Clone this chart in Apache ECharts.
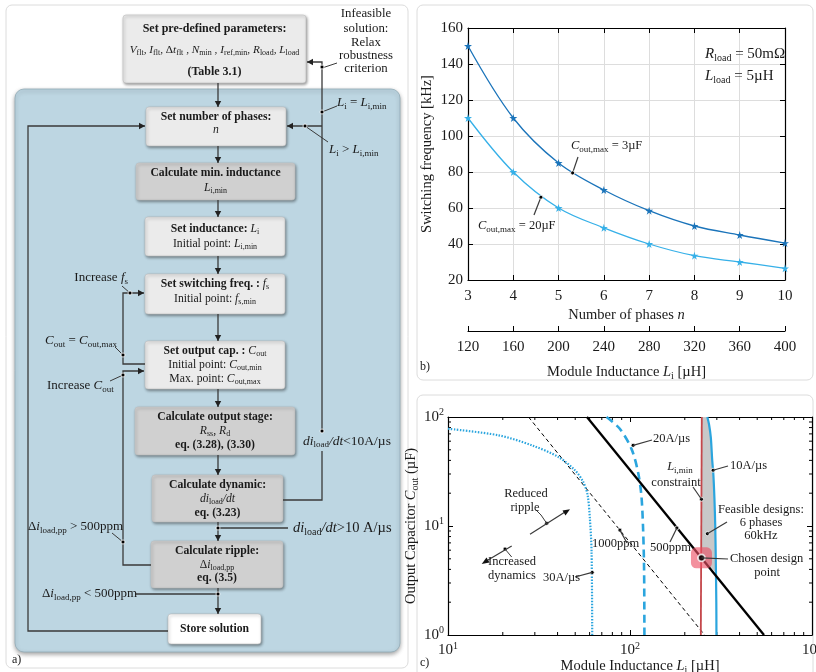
<!DOCTYPE html>
<html><head><meta charset="utf-8">
<script src="https://cdn.jsdelivr.net/npm/echarts@6/dist/echarts.min.js"></script>
<style>html,body{margin:0;padding:0;background:#fff}#c{width:816px;height:672px}</style>
</head><body><div id="c"></div>
<script>
// ---------- data: panel b ----------
const phases = [3, 4, 5, 6, 7, 8, 9, 10];
const fsw3uF = [150, 110, 85, 70, 58.5, 50, 45, 40.5];
const fsw20uF = [110, 80, 60, 49, 40, 33.5, 30, 26.5];
const inductanceRange = [120, 400, 40];   // min, max, step of the second x-axis
const freqRange = [20, 160, 20];
// ---------- data: panel c  [L_i (uH), C_out (uF)] ----------
const ripple500 = [[58, 100], [545, 1]];
const ripple1000 = [[27.7, 100], [257, 1]];
const liMinLine = [[248, 100], [245, 1]];
const dyn10 = [[266, 100], [272, 85], [278, 65], [283, 40], [287, 30], [291, 18], [294, 10], [296, 5], [298, 2], [298.5, 1]];
const dyn20 = [[74.3, 100], [87.9, 78], [101.9, 51], [110.8, 31], [115.5, 19], [118, 9.5], [119.5, 4], [120, 1]];
const dyn30 = [[10, 78], [18.9, 68], [28.9, 55], [40.4, 43], [49.8, 32.5], [55.3, 25.4], [58.5, 19.2], [60.2, 11.7], [61.5, 5.8], [62, 1]];
const feasible = [[248, 100], [266, 100], [272, 85], [278, 65], [283, 40], [287, 30], [291, 18], [294, 10], [296, 5], [296.5, 3.75], [247, 5.1]];
const chosenPoint = [247, 5.1];
const xMinor = [20, 30, 40, 50, 60, 70, 80, 90, 200, 300, 400, 500, 600, 700, 800, 900];
const yMinor = [2, 3, 4, 5, 6, 7, 8, 9, 20, 30, 40, 50, 60, 70, 80, 90];

const F = '"Liberation Serif","DejaVu Serif",serif';
const INK = '#1a1a1a';
function RZ(size) { // zrender rich (graphic)
  const sub = Math.round(size * 0.68);
  return {
    b: {fontFamily: F, fontSize: size, fontWeight: 'bold', fill: INK},
    n: {fontFamily: F, fontSize: size, fill: INK},
    i: {fontFamily: F, fontSize: size, fontStyle: 'italic', fill: INK},
    s: {fontFamily: F, fontSize: sub, fill: INK, padding: [Math.round(size * 0.55), 0, 0, 0]}
  };
}
function RE(size) { // echarts rich
  const sub = Math.round(size * 0.68);
  return {
    n: {fontFamily: F, fontSize: size, color: INK},
    i: {fontFamily: F, fontSize: size, fontStyle: 'italic', color: INK},
    s: {fontFamily: F, fontSize: sub, color: INK, padding: [Math.round(size * 0.55), 0, 0, 0]},
    b: {fontFamily: F, fontSize: size, color: INK},
    e: {fontFamily: F, fontSize: 10, color: INK, padding: [0, 0, 9, 0]}
  };
}

const chart = echarts.init(document.getElementById('c'));
const blueDark = '#1b74ba', blueLight = '#36b0e8', cBlue = '#2ba5de';
const star = 'path://M50,0 L61,35 98,35 68,57 79,91 50,70 21,91 32,57 2,35 39,35Z';

const boxAxis = (extra) => Object.assign({
  axisLine: {onZero: false, lineStyle: {color: '#000', width: 1.2}},
  axisTick: {inside: true, length: 5, lineStyle: {color: '#000'}},
  splitLine: {show: false}
}, extra);

const option = {
  animation: false,
  backgroundColor: '#fff',
  grid: [
    {left: 468, top: 28, width: 317, height: 252, outerBoundsMode: 'none', containLabel: false},
    {left: 448, top: 417, width: 364, height: 218, outerBoundsMode: 'none', containLabel: false}
  ],
  xAxis: [
    boxAxis({gridIndex: 0, type: 'value', min: phases[0], max: phases[phases.length - 1], interval: 1, position: 'bottom',
      axisLabel: {fontFamily: F, fontSize: 15, color: INK, margin: 9},
      splitLine: {show: true, lineStyle: {color: '#dddddd'}},
      name: '{n|Number of phases }{i|n}', nameLocation: 'middle', nameGap: 28, nameTextStyle: {rich: RE(14.5)}}),
    boxAxis({gridIndex: 0, type: 'value', min: 3, max: 10, interval: 1, position: 'top', axisLabel: {show: false}}),
    boxAxis({gridIndex: 0, type: 'value', min: inductanceRange[0], max: inductanceRange[1], interval: inductanceRange[2], position: 'bottom', offset: 51,
      axisLabel: {fontFamily: F, fontSize: 15, color: INK, margin: 9},
      name: '{n|Module Inductance }{i|L}{s|i}{n| [µH]}', nameLocation: 'middle', nameGap: 32, nameTextStyle: {rich: RE(14.5)}}),
    boxAxis({gridIndex: 1, type: 'log', logBase: 10, min: 10, max: 1000, position: 'bottom',
      axisLabel: {margin: 6, formatter: v => '{b|10}{e|' + Math.round(Math.log10(v)) + '}', rich: RE(15)},
      name: '{n|Module Inductance }{i|L}{s|i}{n| [µH]}', nameLocation: 'middle', nameGap: 17, nameTextStyle: {rich: RE(14.5), padding: [0, 0, 0, 20]}}),
    boxAxis({gridIndex: 1, type: 'log', logBase: 10, min: 10, max: 1000, position: 'top', axisLabel: {show: false}})
  ],
  yAxis: [
    boxAxis({gridIndex: 0, type: 'value', min: freqRange[0], max: freqRange[1], interval: freqRange[2], position: 'left',
      axisLabel: {fontFamily: F, fontSize: 15, color: INK, margin: 5},
      splitLine: {show: true, lineStyle: {color: '#dddddd'}},
      name: '{n|Switching frequency [kHz]}', nameLocation: 'middle', nameGap: 33, nameRotate: 90, nameTextStyle: {rich: RE(14.5)}}),
    boxAxis({gridIndex: 0, type: 'value', min: 20, max: 160, interval: 20, position: 'right', axisLabel: {show: false}}),
    boxAxis({gridIndex: 1, type: 'log', logBase: 10, min: 1, max: 100, position: 'left',
      axisLabel: {margin: 4, formatter: v => '{b|10}{e|' + Math.round(Math.log10(v)) + '}', rich: RE(15)},
      name: '{n|Output Capacitor }{i|C}{s|out}{n| (µF)}', nameLocation: 'middle', nameGap: 25, nameRotate: 90, nameTextStyle: {rich: RE(14.5)}}),
    boxAxis({gridIndex: 1, type: 'log', logBase: 10, min: 1, max: 100, position: 'right', axisLabel: {show: false}})
  ],
  series: [
    {type: 'line', xAxisIndex: 0, yAxisIndex: 0, smooth: 0.35, symbol: star, symbolSize: 8,
      data: phases.map((n, k) => [n, fsw3uF[k]]), lineStyle: {color: blueDark, width: 1.3}, itemStyle: {color: blueDark}, z: 5},
    {type: 'line', xAxisIndex: 0, yAxisIndex: 0, smooth: 0.35, symbol: star, symbolSize: 8,
      data: phases.map((n, k) => [n, fsw20uF[k]]), lineStyle: {color: blueLight, width: 1.3}, itemStyle: {color: blueLight}, z: 5},
    // panel c
    {type: 'custom', xAxisIndex: 3, yAxisIndex: 2, data: [feasible[0]], z: 1, silent: true,
      renderItem: (p, api) => ({type: 'polygon', shape: {points: feasible.map(q => api.coord(q))}, style: {fill: '#c8c8c8'}})},
    {type: 'custom', xAxisIndex: 3, yAxisIndex: 2, data: xMinor.map(v => [v, 1]), z: 2, silent: true,
      renderItem: (p, api) => {
        const a = api.coord([api.value(0), 1]), b = api.coord([api.value(0), 100]);
        return {type: 'group', children: [
          {type: 'line', shape: {x1: a[0], y1: a[1], x2: a[0], y2: a[1] - 3}, style: {stroke: '#000', lineWidth: 1}},
          {type: 'line', shape: {x1: b[0], y1: b[1], x2: b[0], y2: b[1] + 3}, style: {stroke: '#000', lineWidth: 1}}]};
      }},
    {type: 'custom', xAxisIndex: 3, yAxisIndex: 2, data: yMinor.map(v => [10, v]), z: 2, silent: true,
      renderItem: (p, api) => {
        const a = api.coord([10, api.value(1)]), b = api.coord([1000, api.value(1)]);
        return {type: 'group', children: [
          {type: 'line', shape: {x1: a[0], y1: a[1], x2: a[0] + 3, y2: a[1]}, style: {stroke: '#000', lineWidth: 1}},
          {type: 'line', shape: {x1: b[0], y1: b[1], x2: b[0] - 3, y2: b[1]}, style: {stroke: '#000', lineWidth: 1}}]};
      }},
    {type: 'line', xAxisIndex: 3, yAxisIndex: 2, data: ripple1000, showSymbol: false, lineStyle: {color: '#000', width: 1, type: [4, 3]}, z: 3},
    {type: 'line', xAxisIndex: 3, yAxisIndex: 2, data: dyn30, showSymbol: false, smooth: 0.3, lineStyle: {color: cBlue, width: 2.2, type: [1.5, 1.5]}, z: 3},
    {type: 'line', xAxisIndex: 3, yAxisIndex: 2, data: dyn20, showSymbol: false, smooth: 0.3, lineStyle: {color: cBlue, width: 2.6, type: [8, 5]}, z: 3},
    {type: 'line', xAxisIndex: 3, yAxisIndex: 2, data: dyn10, showSymbol: false, smooth: 0.3, lineStyle: {color: cBlue, width: 2.2}, z: 3},
    {type: 'line', xAxisIndex: 3, yAxisIndex: 2, data: liMinLine, showSymbol: false, lineStyle: {color: '#c4474b', width: 1.8}, z: 4},
    {type: 'line', xAxisIndex: 3, yAxisIndex: 2, data: ripple500, showSymbol: false, lineStyle: {color: '#000', width: 2.3}, z: 4},
    {type: 'scatter', xAxisIndex: 3, yAxisIndex: 2, data: [chosenPoint], symbol: 'roundRect', symbolSize: 21, itemStyle: {color: 'rgba(236,78,100,0.78)'}, z: 6},
    {type: 'scatter', xAxisIndex: 3, yAxisIndex: 2, data: [chosenPoint], symbol: 'circle', symbolSize: 7, itemStyle: {color: '#000', borderColor: '#fff', borderWidth: 1.8}, z: 7}
  ]
};
chart.setOption(option);

// ---------- graphics (flow chart + annotations) ----------
const g = [];
function line(pts, w, z) { g.push({type: 'polyline', z: z || 20, shape: {points: pts}, style: {stroke: '#3a3a3a', lineWidth: w || 1.3, fill: null}}); }
function head(x, y, dir) {
  const L = 6, W = 3.2; let pts;
  if (dir === 'd') pts = [[x, y], [x - W, y - L], [x + W, y - L]];
  if (dir === 'r') pts = [[x, y], [x - L, y - W], [x - L, y + W]];
  if (dir === 'l') pts = [[x, y], [x + L, y - W], [x + L, y + W]];
  g.push({type: 'polygon', z: 21, shape: {points: pts}, style: {fill: '#222'}});
}
function arrow(pts, dir) { line(pts); const p = pts[pts.length - 1]; head(p[0], p[1], dir); }
function dot(x, y) { g.push({type: 'circle', z: 22, shape: {cx: x, cy: y, r: 2}, style: {fill: '#000', stroke: '#fff', lineWidth: 0.8}}); }
function txt(x, y, s, size, align) {
  align = align || 'center';
  g.push({type: 'text', z: 30, x: x, y: y, style: {text: s, rich: RZ(size), align: align, verticalAlign: 'middle', textAlign: align, textVerticalAlign: 'middle', fontFamily: F, fontSize: size, fill: INK}});
}
const BF = 11.7;
function box(x, y, w, h, fill, lines) {
  g.push({type: 'rect', z: 10, shape: {x: x, y: y, width: w, height: h, r: 3},
    style: {fill: fill, stroke: '#bdbdbd', lineWidth: 0.6, shadowBlur: 3, shadowOffsetX: 1, shadowOffsetY: 1.5, shadowColor: 'rgba(0,0,0,0.4)'}});
  lines.forEach(([ly, s, size]) => txt(x + w / 2, ly, s, size || BF));
}

// panel frames
g.push({type: 'rect', z: 0, shape: {x: 6, y: 5, width: 402, height: 663, r: 6}, style: {fill: '#fff', stroke: '#dcdcdc', lineWidth: 1}});
g.push({type: 'rect', z: 0, shape: {x: 417, y: 5, width: 396, height: 375, r: 6}, style: {fill: 'none', stroke: '#dcdcdc', lineWidth: 1}});
g.push({type: 'rect', z: 0, shape: {x: 417, y: 395, width: 396, height: 292, r: 6}, style: {fill: 'none', stroke: '#dcdcdc', lineWidth: 1}});
g.push({type: 'rect', z: 1, shape: {x: 15, y: 89, width: 385, height: 563, r: 9},
  style: {fill: '#bdd6e2', stroke: '#92acb8', lineWidth: 0.8, shadowBlur: 4, shadowColor: 'rgba(0,0,0,0.35)', shadowOffsetY: 2}});

const L1 = '#ebebeb', D1 = '#d0d0d0';
box(123, 15, 183, 68, L1, [[29, '{b|Set pre-defined parameters:}', 12],
  [50, '{i|V}{s|flt}{n|, }{i|I}{s|flt}{n|, Δ}{i|t}{s|flt}{n| , }{i|N}{s|min}{n| , }{i|I}{s|ref,min}{n|, }{i|R}{s|load}{n|, }{i|L}{s|load}', 11.3],
  [72, '{b|(Table 3.1)}', 12]]);
box(146, 107, 140, 39, L1, [[117, '{b|Set number of phases:}'], [130, '{i|n}']]);
box(136, 163, 159, 37, D1, [[173, '{b|Calculate min. inductance}'], [188, '{i|L}{s|i,min}']]);
box(145, 217, 140, 39, L1, [[229, '{b|Set inductance: }{i|L}{s|i}'], [244, '{n|Initial point: }{i|L}{s|i,min}']]);
box(145, 274, 140, 40, L1, [[284, '{b|Set switching freq. : }{i|f}{s|s}'], [299, '{n|Initial point: }{i|f}{s|s,min}']]);
box(145, 341, 140, 48, L1, [[351, '{b|Set output cap. : }{i|C}{s|out}'], [365, '{n|Initial point: }{i|C}{s|out,min}'], [379, '{n|Max. point: }{i|C}{s|out,max}']]);
box(135, 407, 160, 48, D1, [[417, '{b|Calculate output stage:}'], [431, '{i|R}{s|ss}{n|, }{i|R}{s|d}'], [445, '{b|eq. (3.28), (3.30)}']]);
box(152, 475, 131, 47, D1, [[485, '{b|Calculate dynamic:}'], [499, '{i|di}{s|load}{i|/dt}'], [513, '{b|eq. (3.23)}']]);
box(151, 541, 132, 47, D1, [[551, '{b|Calculate ripple:}'], [565, '{n|Δ}{i|i}{s|load,pp}'], [578, '{b|eq. (3.5)}']]);
box(168, 614, 93, 30, '#ffffff', [[629, '{b|Store solution}']]);

// main vertical arrows
[[83, 107], [146, 163], [200, 217], [256, 274], [314, 341], [389, 407], [455, 475], [522, 541], [588, 614]].forEach(([a, b]) => arrow([[218, a], [218, b]], 'd'));
// right feedback
line([[283, 500], [322, 500], [322, 451]]);
arrow([[322, 431], [322, 62], [307, 62]], 'l');
arrow([[322, 126], [287, 126]], 'l');
dot(322, 431); dot(322, 67); dot(322, 112); dot(305, 126);
// left outer loop
arrow([[168, 631], [28, 631], [28, 126], [145, 126]], 'r');
// inner loops
arrow([[145, 364], [123, 364], [123, 293], [144, 293]], 'r');
arrow([[151, 565], [123, 565], [123, 371], [144, 371]], 'r');
dot(130, 293); dot(123, 355); dot(123, 375); dot(123, 542);
// horizontal feeds
line([[288, 528], [218, 528]]); dot(218, 528);
line([[135, 594], [218, 594]]); dot(218, 594);
// leaders
line([[322, 68], [337, 63]], 1); line([[322, 112], [337, 106]], 1); line([[305, 126], [328, 142]], 1);
line([[130, 293], [122, 286]], 1); line([[123, 355], [115, 347]], 1); line([[123, 375], [110, 381]], 1); line([[123, 542], [112, 533]], 1);
// side labels
['Infeasible', 'solution:', 'Relax', 'robustness', 'criterion'].forEach((s, k) => txt(366, [14, 29, 43, 56, 69][k], '{n|' + s + '}', 12.8));
txt(337, 103, '{i|L}{s|i}{n| = }{i|L}{s|i,min}', 13, 'left');
txt(329, 150, '{i|L}{s|i}{n| > }{i|L}{s|i,min}', 13, 'left');
txt(128, 278, '{n|Increase }{i|f}{s|s}', 13, 'right');
txt(45, 341, '{i|C}{s|out}{n| = }{i|C}{s|out,max}', 13, 'left');
txt(47, 386, '{n|Increase }{i|C}{s|out}', 13, 'left');
txt(28, 527, '{n|Δ}{i|i}{s|load,pp}{n| > 500ppm}', 13, 'left');
txt(42, 594, '{n|Δ}{i|i}{s|load,pp}{n| < 500ppm}', 13, 'left');
txt(303, 441, '{i|di}{s|load}{i|/dt}{n|<10A/µs}', 13.5, 'left');
txt(293, 528, '{i|di}{s|load}{i|/dt}{n|>10 A/µs}', 14.5, 'left');
txt(12, 660, '{n|a)}', 12, 'left');

// panel b annotations
const pb = v => chart.convertToPixel({xAxisIndex: 0, yAxisIndex: 0}, v);
[[[5.31, 79.5], [578, 157]], [[4.61, 66], [534, 215]]].forEach(([d, e]) => { const p = pb(d); line([p, e], 1.2); dot(p[0], p[1]); });
txt(571, 146, '{i|C}{s|out,max}{n| = 3µF}', 12.5, 'left');
txt(478, 226, '{i|C}{s|out,max}{n| = 20µF}', 12.5, 'left');
txt(705, 54, '{i|R}{s|load}{n| = 50mΩ}', 15, 'left');
txt(705, 76, '{i|L}{s|load}{n| = 5µH}', 15, 'left');
txt(420, 367, '{n|b)}', 12, 'left');

// panel c annotations
const pc = v => chart.convertToPixel({xAxisIndex: 3, yAxisIndex: 2}, v);
[[[104, 55], [652, 440]], [[286, 32.5], [728, 466]], [[247, 17.6], [693, 487]], [[266, 8.5], [727, 522]],
 [[181, 9.6], [670, 542]], [[88, 9.17], [627, 543]], [[62, 3.75], [575, 577]], [chosenPoint, [728, 559]]].forEach(([d, e]) => {
  const p = pc(d); line([p, e], 1.2, 25); if (d !== chosenPoint) dot(p[0], p[1]);
});
txt(653, 439, '{n|20A/µs}', 12.5, 'left');
txt(730, 466, '{n|10A/µs}', 12.5, 'left');
txt(680, 467, '{i|L}{s|i,min}', 12.5);
txt(676, 483, '{n|constraint}', 12.5);
txt(761, 510, '{n|Feasible designs:}', 12.5);
txt(761, 523, '{n|6 phases}', 12.5);
txt(761, 536, '{n|60kHz}', 12.5);
txt(730, 559, '{n|Chosen design}', 12.5, 'left');
txt(767, 573, '{n|point}', 12.5);
txt(650, 548, '{n|500ppm}', 12.5, 'left');
txt(592, 544, '{n|1000ppm}', 12.5, 'left');
txt(543, 578, '{n|30A/µs}', 12.5, 'left');
txt(526, 494, '{n|Reduced}', 12.5);
txt(525, 508, '{n|ripple}', 12.5);
txt(512, 562, '{n|Increased}', 12.5);
txt(512, 576, '{n|dynamics}', 12.5);
txt(420, 663, '{n|c)}', 12, 'left');
// reduced ripple / increased dynamics double arrow
line([[488, 560], [511.7, 546]], 1.2, 25); line([[530, 534.3], [565, 512]], 1.2, 25);
g.push({type: 'polygon', z: 26, shape: {points: [[481.7, 564], [489.5, 562.5], [486.5, 557.5]]}, style: {fill: '#111'}});
g.push({type: 'polygon', z: 26, shape: {points: [[570, 509.3], [562.5, 510.5], [565.5, 515.5]]}, style: {fill: '#111'}});
dot(505, 549); dot(546.7, 523.3);
line([[546.7, 523.3], [541, 515], [536, 510]], 1, 25);
line([[505, 549], [511.7, 557]], 1, 25);

chart.setOption({graphic: g});
</script></body></html>
